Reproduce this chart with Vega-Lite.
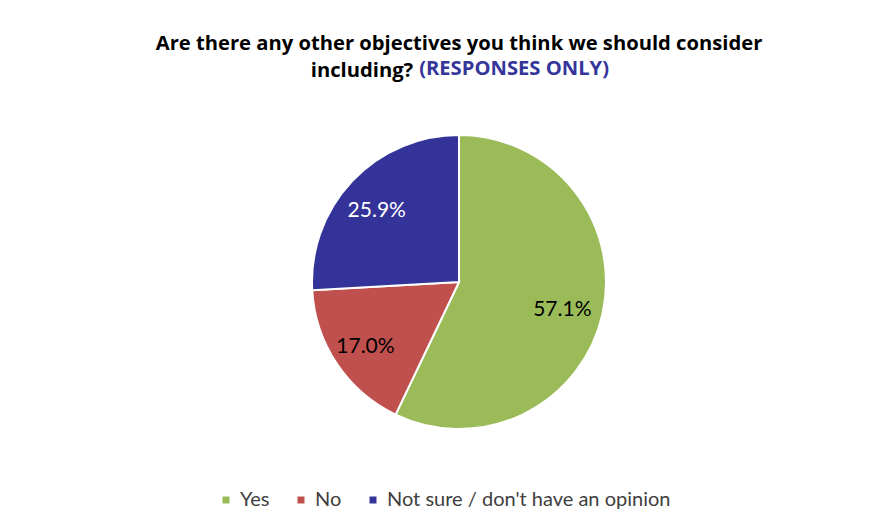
{
  "$schema": "https://vega.github.io/schema/vega-lite/v6.json",
  "width": 872,
  "height": 528,
  "autosize": {"type": "fit", "contains": "padding"},
  "padding": {"left": 46, "right": 0, "top": 33, "bottom": 18},
  "background": "white",
  "config": {
    "view": {"stroke": null},
    "font": "Lato",
    "legend": {"layout": {"bottom": {"anchor": "middle"}}}
  },
  "title": {
    "text": ["Are there any other objectives you think we should consider", "including?\u00a0\u00a0\u00a0\u00a0\u00a0\u00a0\u00a0\u00a0\u00a0\u00a0\u00a0\u00a0\u00a0\u00a0\u00a0\u00a0\u00a0\u00a0\u00a0\u00a0\u00a0\u00a0\u00a0\u00a0\u00a0\u00a0\u00a0\u00a0\u00a0\u00a0\u00a0\u00a0\u00a0\u00a0\u00a0\u00a0\u00a0\u200b"],
    "subtitle": "\u200b\u00a0\u00a0\u00a0\u00a0\u00a0\u00a0\u00a0\u00a0\u00a0\u00a0\u00a0\u00a0\u00a0\u00a0\u00a0\u00a0\u00a0\u00a0\u00a0\u00a0\u00a0(RESPONSES ONLY)",
    "font": "Open Sans",
    "fontSize": 20.2,
    "fontWeight": "bold",
    "color": "#000000",
    "lineHeight": 27,
    "subtitleFont": "Open Sans",
    "subtitleFontSize": 20.2,
    "subtitleFontWeight": "bold",
    "subtitleColor": "#35359A",
    "subtitlePadding": -22,
    "offset": 13
  },
  "data": {
    "values": [
      {"answer": "Yes", "pct": 0.571, "ord": 1},
      {"answer": "No", "pct": 0.170, "ord": 2},
      {"answer": "Not sure / don't have an opinion", "pct": 0.259, "ord": 3}
    ]
  },
  "encoding": {
    "theta": {"field": "pct", "type": "quantitative", "stack": true},
    "order": {"field": "ord", "type": "quantitative"},
    "color": {
      "field": "answer",
      "type": "nominal",
      "sort": ["Yes", "No", "Not sure / don't have an opinion"],
      "scale": {
        "domain": ["Yes", "No", "Not sure / don't have an opinion"],
        "range": ["#9BBB59", "#C0504D", "#333399"]
      },
      "legend": {
        "orient": "bottom",
        "direction": "horizontal",
        "title": null,
        "symbolType": "square",
        "symbolSize": 49,
        "symbolStrokeWidth": 0,
        "labelFont": "Lato",
        "labelFontSize": 20,
        "labelColor": "#404040",
        "labelLimit": 500,
        "labelOffset": 4,
        "columnPadding": 21,
        "offset": 20,
        "labelExpr": "datum.label === 'Yes' || datum.label === 'No' ? datum.label : datum.label + '\u00a0\u00a0\u00a0\u00a0\u00a0\u00a0\u200b'"
      }
    }
  },
  "layer": [
    {"mark": {"type": "arc", "radius": 147, "stroke": "white", "strokeWidth": 2}},
    {
      "mark": {"type": "text", "radius": 109, "font": "Lato", "fontSize": 21, "dx": -3, "dy": 4},
      "encoding": {
        "text": {"field": "pct", "type": "quantitative", "format": ".1%"},
        "color": {"condition": {"test": "datum.ord === 3", "value": "white"}, "value": "black"}
      }
    }
  ]
}
